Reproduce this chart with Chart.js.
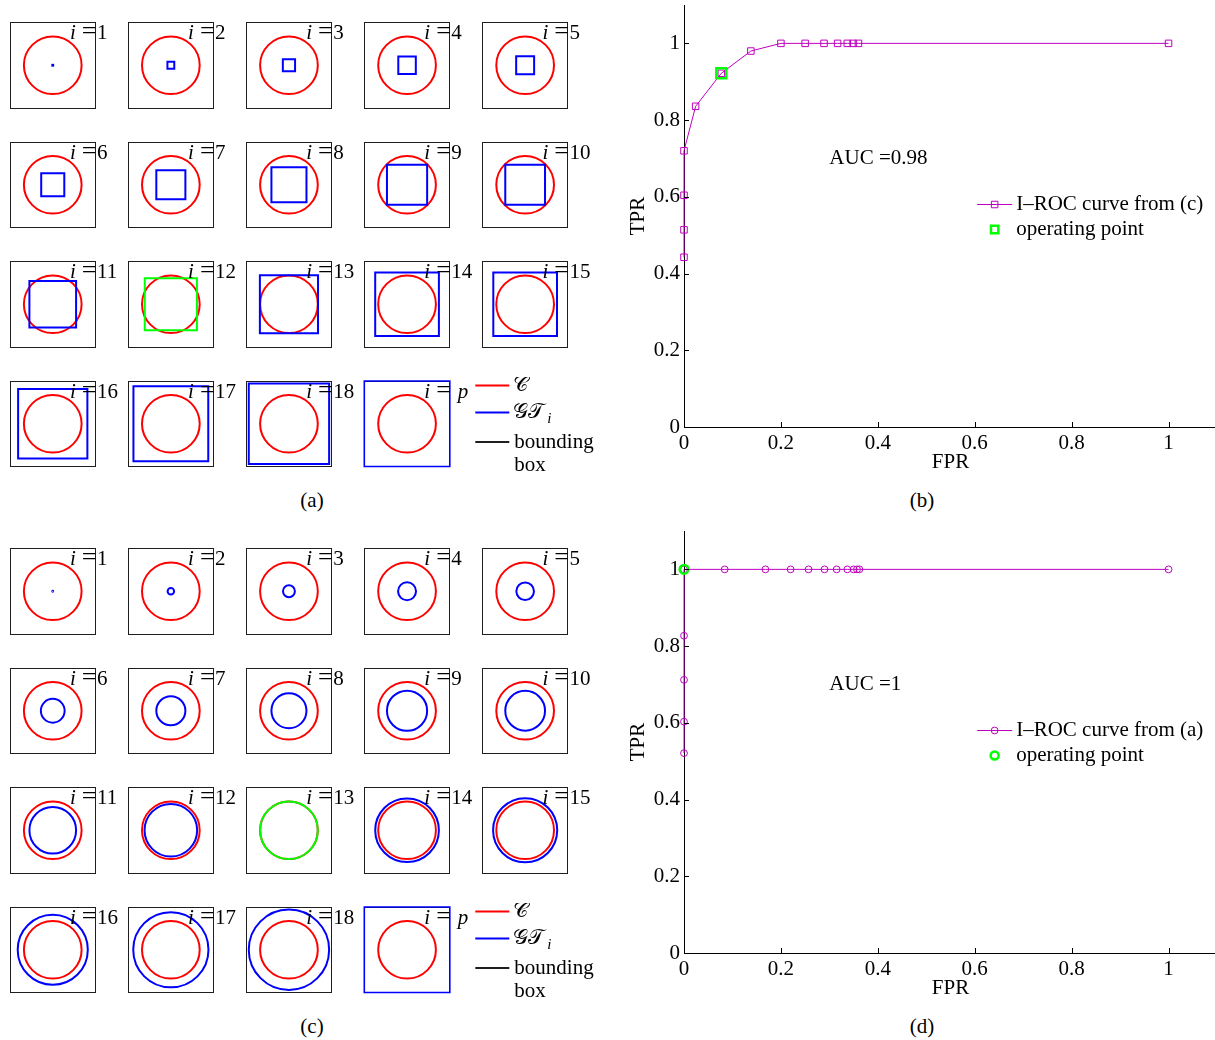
<!DOCTYPE html>
<html>
<head>
<meta charset="utf-8">
<title>I-ROC curves</title>
<script src="https://cdn.jsdelivr.net/npm/chart.js@4.4.1/dist/chart.umd.min.js"></script>
<style>
  html, body { margin: 0; padding: 0; background: #fff; }
  body { position: relative; width: 1215px; height: 1040px; overflow: hidden; }
  canvas { position: absolute; }
  .cap { position: absolute; font: 21px "Liberation Serif", "Times New Roman", serif; color: #000;
         transform: translate(-50%, -50%); white-space: nowrap; }
</style>
</head>
<body>
<div class="cap" style="left:312px; top:500px">(a)</div>
<div class="cap" style="left:922px; top:500px">(b)</div>
<div class="cap" style="left:312px; top:1026px">(c)</div>
<div class="cap" style="left:922px; top:1026px">(d)</div>
<script>
// ---------------- data ----------------
const indexLabels = ['1','2','3','4','5','6','7','8','9','10','11','12','13','14','15','16','17','18','p'];
// radius of the reference circle C, in box units (box spans -1..1)
const cRadius = 0.675;
// (a): half side of the square ground truth GT_i (last one, i = p, is the whole box)
const squareGtHalf = [0.01, 0.08, 0.143, 0.205, 0.21, 0.27, 0.34, 0.41, 0.47, 0.465,
                      0.546, 0.61, 0.68, 0.745, 0.745, 0.81, 0.875, 0.94, 1.0];
// (c): radius of the circular ground truth GT_i for i = 1..18 (i = p is the whole box)
const circleGtRadius = [0.01, 0.076, 0.139, 0.21, 0.206, 0.278, 0.34, 0.41, 0.47, 0.465,
                        0.546, 0.615, 0.675, 0.745, 0.75, 0.82, 0.88, 0.94];
const squareOpIndex = 11;   // i = 12
const circleOpIndex = 12;   // i = 13

// ROC axes
const rocTicks = [0, 0.2, 0.4, 0.6, 0.8, 1];
const rocMax = 1.1;

// (b) I-ROC curve from (c)
const fprFromC = [0, 0, 0, 0, 0.024, 0.077, 0.138, 0.2, 0.25, 0.289, 0.317, 0.337, 0.349, 0.36, 1];
const tprFromC = [0.4425, 0.514, 0.604, 0.72, 0.836, 0.922, 0.98, 1, 1, 1, 1, 1, 1, 1, 1];
const opFromC = { fpr: 0.077, tpr: 0.922 };
const aucFromC = 'AUC =0.98';

// (d) I-ROC curve from (a)
const fprFromA = [0, 0, 0, 0, 0, 0.084, 0.168, 0.22, 0.257, 0.29, 0.315, 0.337, 0.35, 0.357, 0.362, 1];
const tprFromA = [0.521, 0.603, 0.712, 0.827, 1, 1, 1, 1, 1, 1, 1, 1, 1, 1, 1, 1];
const opFromA = { fpr: 0, tpr: 1 };
const aucFromA = 'AUC =1';

// ---------------- styles ----------------
const RED = '#ff0000', BLUE = '#0000ff', GREEN = '#00ff00', FRAME = '#1e1e1e', PURPLE = '#bf00bf';
const NONE = 'rgba(0,0,0,0)';
const SERIF = '"Liberation Serif", "Times New Roman", "DejaVu Serif", serif';
const FONT = '21px ' + SERIF;
const FONT_IT = 'italic 21px ' + SERIF;
const SCRIPT_C = '\u{1D49E}';
const SCRIPT_GT = '\u{1D4A2}\u{1D4AF}';

Chart.defaults.font.family = SERIF;
Chart.defaults.font.size = 21;
Chart.defaults.color = '#000';

function addCanvas(left, top, w, h) {
  const cv = document.createElement('canvas');
  cv.width = w; cv.height = h;
  cv.style.left = left + 'px'; cv.style.top = top + 'px';
  cv.style.width = w + 'px'; cv.style.height = h + 'px';
  document.body.appendChild(cv);
  return cv;
}

// pixel radius of a marker so that it spans `size` box units around the origin
function markerRadius(ctx, size, style) {
  const s = ctx.chart.scales.x;
  const px = Math.abs(s.getPixelForValue(size) - s.getPixelForValue(0));
  return style === 'rect' ? px / Math.SQRT1_2 : px;
}

// "i =n" label drawn across the top-right corner of each box
const boxLabelPlugin = {
  id: 'boxLabel',
  afterDatasetsDraw(chart, args, o) {
    const { ctx, chartArea } = chart;
    const xr = chartArea.right, yb = chartArea.top + 16.5;
    ctx.save();
    ctx.fillStyle = '#000';
    ctx.textBaseline = 'alphabetic';
    ctx.font = '26px ' + SERIF;
    const eqW = ctx.measureText('=').width;
    ctx.textAlign = 'right';
    ctx.fillText('=', xr + 1, yb);
    ctx.font = FONT_IT;
    ctx.fillText('i', xr - eqW - 5, yb);
    ctx.textAlign = 'left';
    if (o.italic) { ctx.font = FONT_IT; ctx.fillText(o.text, xr + 8, yb); }
    else { ctx.font = FONT; ctx.fillText(o.text, xr + 1.5, yb); }
    ctx.restore();
  }
};

// legend for the box grids: C, GT_i and bounding box
const gridLegendPlugin = {
  id: 'gridLegend',
  afterDraw(chart, args, o) {
    if (!o.show) return;
    const { ctx, chartArea } = chart;
    const x0 = chartArea.right + 25.5, x1 = x0 + 34, tx = x1 + 4;
    const rows = [
      { color: RED, y: chartArea.top + 4.5, draw: (y) => { ctx.font = FONT; ctx.fillText(SCRIPT_C, tx, y); } },
      { color: BLUE, y: chartArea.top + 31.5, draw: (y) => {
          ctx.font = FONT; ctx.fillText(SCRIPT_GT, tx, y);
          const w = ctx.measureText(SCRIPT_GT).width;
          ctx.font = 'italic 15px ' + SERIF; ctx.fillText('i', tx + w + 3, y + 7);
        } },
      { color: FRAME, y: chartArea.top + 61, draw: (y) => {
          ctx.font = FONT; ctx.fillText('bounding', tx + 1, y); ctx.fillText('box', tx + 1, y + 23);
        } }
    ];
    ctx.save();
    ctx.textBaseline = 'middle';
    ctx.textAlign = 'left';
    rows.forEach(r => {
      ctx.strokeStyle = r.color; ctx.lineWidth = 2;
      ctx.beginPath(); ctx.moveTo(x0, r.y); ctx.lineTo(x1, r.y); ctx.stroke();
      ctx.fillStyle = '#000';
      r.draw(r.y);
    });
    ctx.restore();
  }
};

const BOX = 85.5, COL0 = 10, COLSTEP = 118.1, ROWSTEP = 119.5;

function frameAxis(axis, position) {
  return {
    type: 'linear', axis: axis, position: position, min: -1, max: 1,
    ticks: { display: false },
    grid: { display: false, drawTicks: false },
    border: { display: true, color: FRAME, width: 1 },
    afterFit: (s) => { if (axis === 'x') s.height = 0; else s.width = 0; }
  };
}

function boxChart(panelTop, k, gt) {
  const col = k % 5, row = Math.floor(k / 5);
  const bl = COL0 + col * COLSTEP, bt = panelTop + row * ROWSTEP;
  const cl = Math.floor(bl) - 4, ct = Math.floor(bt) - 4;
  const isLast = k === indexLabels.length - 1;
  const W = isLast ? 250 : 124, H = isLast ? 110 : 94;
  const cv = addCanvas(cl, ct, W, H);
  const padL = bl - cl, padT = bt - ct;
  new Chart(cv, {
    type: 'scatter',
    data: {
      datasets: [
        { label: 'GT', data: [{ x: 0, y: 0 }], pointStyle: gt.style,
          pointRadius: (c) => markerRadius(c, gt.size, gt.style),
          pointBorderColor: gt.color, pointBackgroundColor: NONE,
          pointBorderWidth: gt.width, clip: false },
        { label: 'C', data: [{ x: 0, y: 0 }], pointStyle: 'circle',
          pointRadius: (c) => markerRadius(c, cRadius, 'circle'),
          pointBorderColor: RED, pointBackgroundColor: NONE,
          pointBorderWidth: 2, clip: false }
      ]
    },
    options: {
      responsive: false, animation: false, events: [],
      layout: { autoPadding: false,
                padding: { left: padL, top: padT, right: W - padL - BOX, bottom: H - padT - BOX } },
      plugins: {
        legend: { display: false }, tooltip: { enabled: false },
        boxLabel: { text: indexLabels[k], italic: indexLabels[k] === 'p' },
        gridLegend: { show: isLast }
      },
      scales: {
        x: frameAxis('x', 'bottom'), x2: frameAxis('x', 'top'),
        y: frameAxis('y', 'left'), y2: frameAxis('y', 'right')
      }
    },
    plugins: [boxLabelPlugin, gridLegendPlugin]
  });
}

// (a) square ground truths
squareGtHalf.forEach((h, k) => {
  const last = k === squareGtHalf.length - 1;
  boxChart(22.5, k, { style: 'rect', size: h,
    color: k === squareOpIndex ? GREEN : BLUE, width: last ? 1.6 : 2 });
});
// (c) circular ground truths, last one is the whole box
indexLabels.forEach((lab, k) => {
  if (k < circleGtRadius.length) {
    boxChart(548.5, k, { style: 'circle', size: circleGtRadius[k],
      color: k === circleOpIndex ? GREEN : BLUE, width: 2 });
  } else {
    boxChart(548.5, k, { style: 'rect', size: 1.0, color: BLUE, width: 1.6 });
  }
});

// ---------------- ROC charts ----------------
const inwardTicksPlugin = {
  id: 'inwardTicks',
  afterDraw(chart) {
    const { ctx, chartArea, scales: { x, y } } = chart;
    ctx.save();
    ctx.strokeStyle = '#000'; ctx.lineWidth = 1;
    ctx.beginPath();
    x.ticks.forEach(t => {
      const px = Math.round(x.getPixelForValue(t.value)) + 0.5;
      ctx.moveTo(px, chartArea.bottom); ctx.lineTo(px, chartArea.bottom - 5);
    });
    y.ticks.forEach(t => {
      const py = Math.round(y.getPixelForValue(t.value)) + 0.5;
      ctx.moveTo(chartArea.left, py); ctx.lineTo(chartArea.left + 5, py);
    });
    ctx.stroke();
    ctx.restore();
  }
};

const rocNotesPlugin = {
  id: 'rocNotes',
  afterDatasetsDraw(chart, args, o) {
    const { ctx, scales: { x, y } } = chart;
    ctx.save();
    ctx.font = FONT; ctx.fillStyle = '#000';
    ctx.textBaseline = 'middle'; ctx.textAlign = 'left';
    ctx.fillText(o.auc.text, x.getPixelForValue(o.auc.x), y.getPixelForValue(o.auc.y));
    const lx = x.getPixelForValue(o.legend.x), ly = y.getPixelForValue(o.legend.y);
    o.legend.order.forEach((di, row) => {
      const ds = chart.data.datasets[di];
      const yy = Math.round(ly + row * o.legend.rowGap) + 0.5;
      const cx = lx + 17.5;
      if (ds.showLine) {
        ctx.strokeStyle = ds.borderColor; ctx.lineWidth = ds.borderWidth;
        ctx.beginPath(); ctx.moveTo(lx, yy); ctx.lineTo(lx + 35, yy); ctx.stroke();
      }
      ctx.strokeStyle = ds.pointBorderColor; ctx.fillStyle = NONE;
      ctx.lineWidth = ds.pointBorderWidth;
      Chart.helpers.drawPoint(ctx, { pointStyle: ds.pointStyle, rotation: 0,
        radius: o.legend.radius[row], borderWidth: ds.pointBorderWidth }, cx, yy);
      ctx.fillStyle = '#000';
      ctx.fillText(ds.label, lx + 39, yy);
    });
    ctx.restore();
  }
};

function rocAxis(title, horizontal) {
  return {
    type: 'linear', min: 0, max: rocMax,
    afterBuildTicks: (s) => { s.ticks = rocTicks.map(v => ({ value: v })); },
    ticks: { padding: 4, autoSkip: false, maxRotation: 0, color: '#000',
             font: { size: 21, family: SERIF }, callback: (v) => String(v) },
    grid: { display: false, drawTicks: false },
    border: { display: true, color: '#000', width: 1 },
    title: { display: true, text: title, color: '#000', font: { size: 21, family: SERIF },
             padding: horizontal ? { top: 0, bottom: 0 } : { top: 6, bottom: 0 } },
    afterFit: (s) => {
      if (horizontal) { s.height = 48; } else { s.width = 64; }
      s.paddingLeft = 0; s.paddingRight = 0; s.paddingTop = 0; s.paddingBottom = 0;
    }
  };
}

function rocChart(top, fpr, tpr, op, marker, curveLabel, aucText) {
  const cv = addCanvas(620, top, 600, 475);
  new Chart(cv, {
    type: 'scatter',
    data: {
      datasets: [
        { label: 'operating point', data: [{ x: op.fpr, y: op.tpr }], showLine: false,
          pointStyle: marker.style, pointRadius: marker.opRadius,
          pointBorderColor: GREEN, pointBackgroundColor: NONE, pointBorderWidth: 2.5, clip: false },
        { label: curveLabel, data: fpr.map((v, i) => ({ x: v, y: tpr[i] })), showLine: true,
          borderColor: PURPLE, borderWidth: 1, tension: 0,
          pointStyle: marker.style, pointRadius: marker.radius,
          pointBorderColor: PURPLE, pointBackgroundColor: NONE, pointBorderWidth: 1, clip: false }
      ]
    },
    options: {
      responsive: false, animation: false, events: [],
      layout: { autoPadding: false, padding: { left: 0, top: 5, right: 3, bottom: 0 } },
      plugins: {
        legend: { display: false }, tooltip: { enabled: false },
        rocNotes: {
          auc: { text: aucText, x: 0.3, y: 0.7 },
          legend: { x: 0.605, y: 0.582, rowGap: 25, order: [1, 0], radius: marker.legendRadius }
        }
      },
      scales: { x: rocAxis('FPR', true), y: rocAxis('TPR', false) }
    },
    plugins: [inwardTicksPlugin, rocNotesPlugin]
  });
}

rocChart(0, fprFromC, tprFromC, opFromC,
  { style: 'rect', radius: 4.6, opRadius: 7, legendRadius: [4.6, 5.2] },
  'I\u2013ROC curve from (c)', aucFromC);
rocChart(526, fprFromA, tprFromA, opFromA,
  { style: 'circle', radius: 3.4, opRadius: 4.4, legendRadius: [3.4, 4] },
  'I\u2013ROC curve from (a)', aucFromA);
</script>
</body>
</html>
